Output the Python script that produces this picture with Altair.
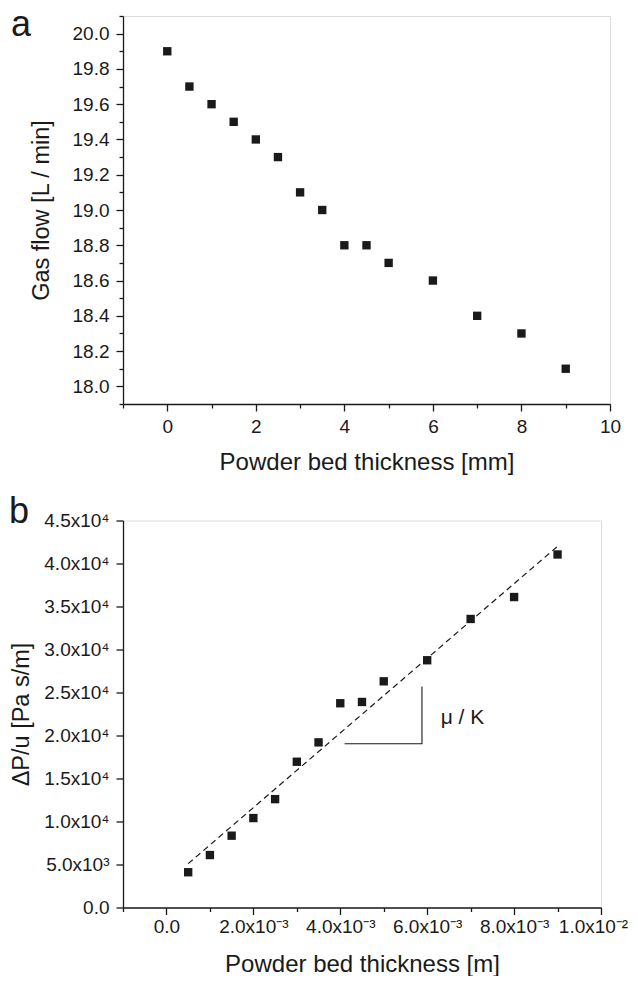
import altair as alt
import pandas as pd

FONT = "Liberation Sans"
INK = "#1a1a1a"

# ---- panel a data ----
thickness_mm = [0, 0.5, 1, 1.5, 2, 2.5, 3, 3.5, 4, 4.5, 5, 6, 7, 8, 9]
gas_flow = [19.9, 19.7, 19.6, 19.5, 19.4, 19.3, 19.1, 19.0, 18.8, 18.8, 18.7, 18.6, 18.4, 18.3, 18.1]

# ---- panel b data ----
thickness_m = [0.0005, 0.001, 0.0015, 0.002, 0.0025, 0.003, 0.0035, 0.004,
               0.0045, 0.005, 0.006, 0.007, 0.008, 0.009]
dp_per_u = [4100, 6100, 8350, 10400, 12600, 16950, 19200, 23750,
            23900, 26300, 28750, 33550, 36100, 41050]

fit_x = [0.0005, 0.009]
fit_y = [5100, 42000]

slope_x = [0.0041, 0.00588, 0.00588]
slope_y = [19035, 19035, 25700]
slope_label = "μ / K"
slope_label_x = 0.00631
slope_label_y = 21360

# ---- axis tick values ----
xa_ticks = [-1, 0, 1, 2, 3, 4, 5, 6, 7, 8, 9, 10]
ya_ticks = [17.9, 18.0, 18.1, 18.2, 18.3, 18.4, 18.5, 18.6, 18.7, 18.8, 18.9,
            19.0, 19.1, 19.2, 19.3, 19.4, 19.5, 19.6, 19.7, 19.8, 19.9, 20.0, 20.1]
xb_ticks = [-0.001, 0.0, 0.001, 0.002, 0.003, 0.004, 0.005, 0.006, 0.007, 0.008, 0.009, 0.01]
yb_ticks = [0, 2500, 5000, 7500, 10000, 12500, 15000, 17500, 20000, 22500, 25000,
            27500, 30000, 32500, 35000, 37500, 40000, 42500, 45000]


def make_axis(title, values, major_test, label_expr, title_x=None, title_y=None,
              label_padding=6, title_size=23.5, label_offset=None):
    kw = dict(
        title=title, values=values, grid=False,
        domainColor=INK, domainWidth=1.3,
        tickColor=INK, tickWidth=1.3,
        tickSize={"condition": {"test": major_test, "value": 7}, "value": 4},
        labelExpr=label_expr, labelFont=FONT, labelFontSize=19, labelColor=INK,
        labelPadding=label_padding, labelFlush=False, labelOverlap=False, labelBound=False,
        titleFont=FONT, titleFontSize=title_size, titleFontWeight="normal", titleColor=INK,
        titleBaseline="alphabetic", titleAlign="center",
    )
    if title_x is not None:
        kw["titleX"] = title_x
    if title_y is not None:
        kw["titleY"] = title_y
    if label_offset is not None:
        kw["labelOffset"] = label_offset
    return alt.Axis(**kw)


# ---------------- panel a ----------------
WA, HA = 487, 388
df_a = pd.DataFrame({"t": thickness_mm, "q": gas_flow})

xa = alt.X("t:Q", scale=alt.Scale(domain=[-1, 10], nice=False, zero=False),
           axis=make_axis("Powder bed thickness [mm]", xa_ticks,
                          "datum.value % 2 == 0",
                          "datum.value % 2 == 0 ? format(datum.value, 'd') : ''",
                          title_y=65, label_padding=6, title_size=24))
ya = alt.Y("q:Q", scale=alt.Scale(domain=[17.9, 20.1], nice=False, zero=False),
           axis=make_axis("Gas flow [L / min]", ya_ticks,
                          "round(datum.value * 10) % 2 == 0",
                          "round(datum.value * 10) % 2 == 0 ? format(datum.value, '.1f') : ''",
                          title_x=-75, title_y=HA / 2, label_padding=7))

pts_a = alt.Chart(df_a).mark_square(size=70, color=INK, opacity=1).encode(x=xa, y=ya)
lab_a = alt.Chart(pd.DataFrame({"l": ["a"]})).mark_text(
    font=FONT, fontSize=36, color=INK, align="left", baseline="alphabetic"
).encode(x=alt.value(-112), y=alt.value(20), text="l:N")

panel_a = alt.layer(pts_a, lab_a).properties(width=WA, height=HA)

# ---------------- panel b ----------------
WB, HB = 478, 387
df_b = pd.DataFrame({"t": thickness_m, "r": dp_per_u})
df_fit = pd.DataFrame({"t": fit_x, "r": fit_y})
df_slope = pd.DataFrame({"t": slope_x, "r": slope_y, "o": [0, 1, 2]})
df_lab = pd.DataFrame({"t": [slope_label_x], "r": [slope_label_y], "l": [slope_label]})

xb_label = ("abs(datum.value) < 1e-9 ? '0.0' : (round(datum.value * 1000) % 2 != 0 ? '' : "
            "(abs(datum.value - 0.01) < 1e-9 ? '1.0x10\u207b\u00b2' : "
            "format(datum.value * 1000, '.1f') + 'x10\u207b\u00b3'))")
yb_label = ("round(datum.value / 2500) % 2 != 0 ? '' : (datum.value == 0 ? '0.0' : "
            "(datum.value < 10000 ? format(datum.value / 1000, '.1f') + 'x10\u00b3' : "
            "format(datum.value / 10000, '.1f') + 'x10\u2074'))")

xb_scale = alt.Scale(domain=[-0.001, 0.01], nice=False, zero=False)
yb_scale = alt.Scale(domain=[0, 45000], nice=False, zero=False)

xb = alt.X("t:Q", scale=xb_scale,
           axis=make_axis("Powder bed thickness [m]", xb_ticks,
                          "round(datum.value * 1000) % 2 == 0", xb_label,
                          title_y=64, label_padding=3, title_size=24,
                          label_offset={"condition": {"test": "abs(datum.value - 0.01) < 1e-9",
                                                      "value": -8}, "value": 0}))
yb = alt.Y("r:Q", scale=yb_scale,
           axis=make_axis("\u0394P/u [Pa s/m]", yb_ticks,
                          "round(datum.value / 2500) % 2 == 0", yb_label,
                          title_x=-95, title_y=HB / 2, label_padding=7))

pts_b = alt.Chart(df_b).mark_square(size=70, color=INK, opacity=1).encode(x=xb, y=yb)
fit_b = alt.Chart(df_fit).mark_line(color=INK, strokeWidth=1.2, strokeDash=[6, 4]).encode(
    x=alt.X("t:Q", scale=xb_scale), y=alt.Y("r:Q", scale=yb_scale))
tri_b = alt.Chart(df_slope).mark_line(color=INK, strokeWidth=1.1).encode(
    x=alt.X("t:Q", scale=xb_scale), y=alt.Y("r:Q", scale=yb_scale), order="o:Q")
txt_b = alt.Chart(df_lab).mark_text(font=FONT, fontSize=21, color=INK, align="left",
                                    baseline="alphabetic").encode(
    x=alt.X("t:Q", scale=xb_scale), y=alt.Y("r:Q", scale=yb_scale), text="l:N")
lab_b = alt.Chart(pd.DataFrame({"l": ["b"]})).mark_text(
    font=FONT, fontSize=36, color=INK, align="left", baseline="alphabetic"
).encode(x=alt.value(-114), y=alt.value(2), text="l:N")

panel_b = alt.layer(pts_b, fit_b, tri_b, txt_b, lab_b).properties(width=WB, height=HB)

chart = alt.vconcat(panel_a, panel_b, spacing=17.5).properties(
    padding={"left": 0, "top": -2, "right": 0, "bottom": -1}
).configure_view(strokeWidth=0).configure(background="white")

chart.save("out.html", embed_options={"renderer": "svg", "actions": False})
